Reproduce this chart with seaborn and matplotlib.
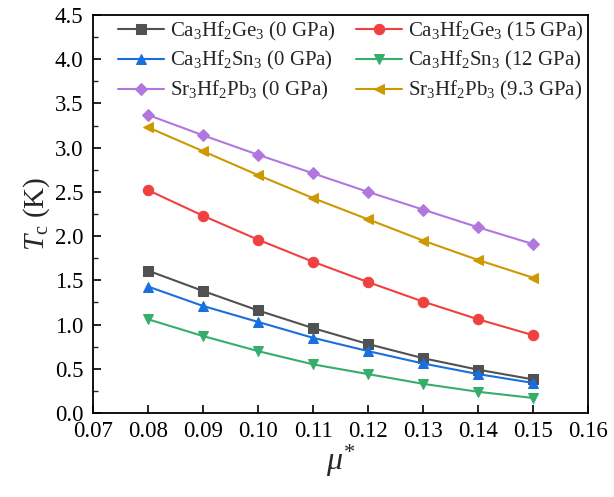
import pandas as pd
import matplotlib
matplotlib.use('Agg')
import matplotlib.pyplot as plt
import seaborn as sns
from matplotlib.ticker import MultipleLocator, AutoMinorLocator

# dados
mu = [0.08, 0.09, 0.10, 0.11, 0.12, 0.13, 0.14, 0.15]

ge_0 = [1.61, 1.38, 1.16, 0.96, 0.78, 0.62, 0.49, 0.38]
ge_15 = [2.52, 2.23, 1.96, 1.71, 1.48, 1.26, 1.06, 0.88]
sn_0 = [1.43, 1.21, 1.03, 0.85, 0.70, 0.56, 0.44, 0.34]
sn_12 = [1.06, 0.87, 0.70, 0.55, 0.44, 0.33, 0.24, 0.17]
pb_0 = [3.37, 3.14, 2.92, 2.71, 2.50, 2.30, 2.10, 1.91]
pb_93 = [3.23, 2.96, 2.69, 2.43, 2.19, 1.95, 1.73, 1.53]

labels = [
    r'Ca$_3$Hf$_2$Ge$_3$ (0 GPa)',
    r'Ca$_3$Hf$_2$Ge$_3$ (15 GPa)',
    r'Ca$_3$Hf$_2$Sn$_3$ (0 GPa)',
    r'Ca$_3$Hf$_2$Sn$_3$ (12 GPa)',
    r'Sr$_3$Hf$_2$Pb$_3$ (0 GPa)',
    r'Sr$_3$Hf$_2$Pb$_3$ (9.3 GPa)',
]
series = [ge_0, ge_15, sn_0, sn_12, pb_0, pb_93]
cores = ['#515151', '#F14040', '#1A6FDF', '#37AD6B', '#B177DE', '#CC9900']
marcadores = ['s', 'o', '^', 'v', 'D', '<']

sns.set_style('ticks')
plt.rcParams['font.family'] = ['Liberation Serif', 'DejaVu Serif']
plt.rcParams['mathtext.fontset'] = 'custom'
plt.rcParams['mathtext.rm'] = 'Liberation Serif'
plt.rcParams['mathtext.it'] = 'Liberation Serif:italic'

fig = plt.figure(figsize=(6.14, 4.97), dpi=100)
ax = fig.add_axes([93 / 614, 1 - 413 / 497, (588 - 93) / 614, (413 - 15) / 497])

for vals, lab, cor, mk in zip(series, labels, cores, marcadores):
    ms = 6.5 if mk == 'D' else 7.5
    sns.lineplot(x=mu, y=vals, ax=ax, color=cor, marker=mk, markersize=ms,
                 markeredgecolor=cor, linewidth=1.5, label=lab)

ax.set_xlim(0.07, 0.16)
ax.set_ylim(0, 4.5)
ax.xaxis.set_major_locator(MultipleLocator(0.01))
ax.yaxis.set_major_locator(MultipleLocator(0.5))
ax.yaxis.set_minor_locator(AutoMinorLocator(2))
ax.xaxis.set_major_formatter(plt.FuncFormatter(lambda v, p: f'{v:.2f}'))
ax.yaxis.set_major_formatter(plt.FuncFormatter(lambda v, p: f'{v:.1f}'))
ax.tick_params(axis='both', which='major', direction='in', length=6, width=1.2,
               labelsize=16.5, colors='black', labelfontfamily='Liberation Serif')
ax.tick_params(axis='x', which='major', pad=6)
ax.tick_params(axis='y', which='major', pad=7)
ax.tick_params(axis='both', which='minor', direction='in', length=3.5, width=1)
for s in ax.spines.values():
    s.set_linewidth(1.3)
    s.set_color('black')

ax.set_xlabel(r'$\mu^{*}$', fontsize=23, labelpad=0)
ax.set_ylabel(r'$T_{\mathrm{c}}$ (K)', fontsize=21, labelpad=2)

# ordem por linhas: matplotlib preenche por colunas
h, l = ax.get_legend_handles_labels()
ordem = [0, 2, 4, 1, 3, 5]
ax.legend([h[i] for i in ordem], [l[i] for i in ordem], loc='upper left', ncol=2,
          frameon=False, fontsize=15, handlelength=2.2, columnspacing=1.0,
          labelspacing=0.33, borderaxespad=0.2, handletextpad=0.3,
          bbox_to_anchor=(0.025, 1.02))

fig.savefig('out.png', dpi=100)
